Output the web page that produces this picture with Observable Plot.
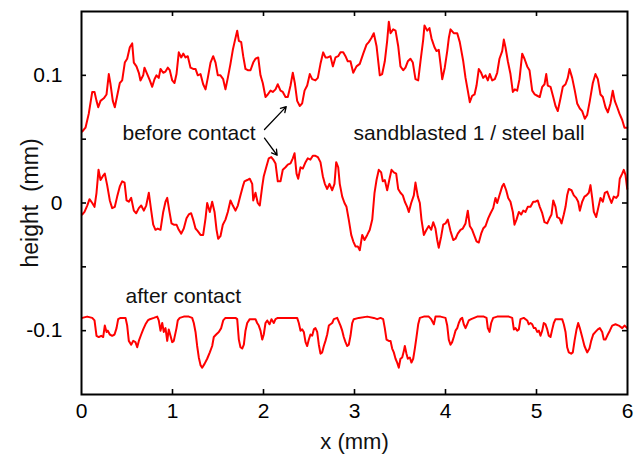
<!DOCTYPE html>
<html>
<head>
<meta charset="utf-8">
<script src="https://cdn.jsdelivr.net/npm/d3@7"></script>
<script src="https://cdn.jsdelivr.net/npm/@observablehq/plot@0.6"></script>
<style>
  html, body { margin: 0; padding: 0; background: #fff; }
  #chart svg { display: block; }
</style>
</head>
<body>
<div id="chart"></div>
<script>
// ---- data (x in mm, height in mm) ----
const beforeTopX = [0.008,0.044,0.080,0.118,0.143,0.165,0.184,0.209,0.245,0.275,0.300,0.319,0.344,0.366,0.392,0.421,0.447,0.476,0.502,0.531,0.557,0.575,0.604,0.630,0.648,0.678,0.692,0.722,0.751,0.777,0.802,0.824,0.849,0.868,0.898,0.923,0.948,0.970,0.997,1.022,1.044,1.069,1.096,1.118,1.143,1.168,1.198,1.227,1.253,1.278,1.308,1.337,1.363,1.388,1.418,1.447,1.473,1.498,1.527,1.557,1.582,1.608,1.637,1.663,1.685,1.711,1.729,1.755,1.777,1.802,1.827,1.857,1.887,1.912,1.942,1.967,1.992,2.022,2.047,2.077,2.102,2.132,2.157,2.187,2.212,2.242,2.267,2.297,2.322,2.344,2.370,2.399,2.425,2.451,2.480,2.509,2.535,2.571,2.597,2.626,2.656,2.681,2.707,2.736,2.762,2.791,2.821,2.846,2.876,2.901,2.926,2.956,2.986,3.022,3.058,3.096,3.132,3.157,3.184,3.212,3.242,3.278,3.304,3.333,3.359,3.377,3.396,3.425,3.451,3.480,3.505,3.535,3.560,3.586,3.615,3.641,3.670,3.700,3.725,3.755,3.769,3.799,3.824,3.846,3.879,3.901,3.926,3.945,3.964,3.992,4.019,4.036,4.055,4.091,4.129,4.157,4.195,4.220,4.245,4.267,4.293,4.319,4.341,4.366,4.392,4.414,4.440,4.465,4.487,4.513,4.542,4.568,4.593,4.623,4.641,4.659,4.685,4.714,4.740,4.762,4.788,4.813,4.843,4.868,4.898,4.923,4.953,4.981,5.008,5.036,5.063,5.088,5.107,5.124,5.154,5.184,5.209,5.234,5.264,5.289,5.319,5.344,5.363,5.392,5.421,5.447,5.476,5.502,5.531,5.557,5.586,5.619,5.648,5.674,5.703,5.729,5.758,5.784,5.813,5.838,5.860,5.887,5.912,5.942,5.967,5.997];
const beforeTopY = [0.056,0.059,0.070,0.087,0.087,0.080,0.075,0.080,0.082,0.085,0.101,0.093,0.080,0.075,0.084,0.094,0.096,0.110,0.113,0.122,0.125,0.110,0.107,0.102,0.096,0.100,0.106,0.101,0.096,0.091,0.097,0.100,0.098,0.105,0.102,0.103,0.106,0.104,0.096,0.094,0.101,0.118,0.114,0.117,0.114,0.115,0.106,0.105,0.105,0.100,0.101,0.093,0.089,0.098,0.110,0.115,0.110,0.100,0.100,0.097,0.089,0.098,0.109,0.120,0.127,0.135,0.127,0.126,0.115,0.105,0.104,0.104,0.110,0.113,0.114,0.100,0.094,0.083,0.085,0.088,0.087,0.089,0.093,0.088,0.087,0.083,0.083,0.092,0.102,0.094,0.080,0.076,0.078,0.088,0.092,0.101,0.097,0.096,0.098,0.109,0.118,0.114,0.114,0.115,0.107,0.114,0.115,0.118,0.118,0.115,0.111,0.111,0.102,0.107,0.109,0.117,0.124,0.126,0.129,0.133,0.123,0.100,0.101,0.111,0.127,0.142,0.133,0.136,0.135,0.123,0.107,0.104,0.106,0.111,0.113,0.110,0.097,0.096,0.111,0.128,0.139,0.135,0.137,0.129,0.122,0.119,0.120,0.109,0.097,0.106,0.119,0.129,0.136,0.133,0.133,0.126,0.111,0.098,0.088,0.079,0.084,0.085,0.092,0.105,0.102,0.098,0.100,0.096,0.101,0.096,0.097,0.102,0.113,0.119,0.128,0.122,0.111,0.101,0.087,0.089,0.088,0.097,0.117,0.113,0.107,0.104,0.088,0.085,0.084,0.083,0.091,0.093,0.101,0.092,0.091,0.083,0.076,0.072,0.082,0.091,0.093,0.098,0.105,0.098,0.088,0.078,0.074,0.072,0.066,0.069,0.080,0.094,0.101,0.097,0.085,0.083,0.075,0.071,0.078,0.088,0.080,0.075,0.070,0.065,0.059,0.059];

const beforeMidX = [0.008,0.033,0.063,0.088,0.118,0.143,0.165,0.187,0.209,0.234,0.256,0.282,0.311,0.337,0.366,0.392,0.421,0.447,0.473,0.495,0.520,0.546,0.575,0.601,0.630,0.656,0.685,0.711,0.740,0.766,0.788,0.813,0.838,0.868,0.898,0.923,0.942,0.967,0.989,1.014,1.044,1.069,1.096,1.124,1.154,1.179,1.205,1.227,1.253,1.278,1.308,1.337,1.363,1.381,1.410,1.436,1.462,1.484,1.502,1.527,1.553,1.582,1.608,1.637,1.663,1.692,1.718,1.747,1.773,1.791,1.821,1.849,1.876,1.887,1.912,1.937,1.959,1.986,2.003,2.030,2.058,2.085,2.107,2.132,2.157,2.187,2.212,2.242,2.267,2.297,2.322,2.341,2.363,2.381,2.407,2.432,2.462,2.487,2.516,2.542,2.571,2.597,2.626,2.652,2.674,2.700,2.725,2.755,2.780,2.799,2.821,2.838,2.865,2.890,2.912,2.937,2.964,2.986,3.011,3.036,3.058,3.085,3.110,3.140,3.168,3.195,3.220,3.242,3.267,3.293,3.311,3.333,3.359,3.385,3.407,3.432,3.458,3.480,3.505,3.531,3.553,3.579,3.597,3.623,3.652,3.670,3.696,3.718,3.736,3.762,3.791,3.816,3.843,3.865,3.890,3.909,3.926,3.953,3.975,4.000,4.025,4.055,4.085,4.110,4.135,4.165,4.190,4.220,4.245,4.267,4.293,4.319,4.341,4.366,4.392,4.414,4.440,4.469,4.495,4.524,4.549,4.568,4.593,4.623,4.641,4.667,4.689,4.714,4.740,4.758,4.780,4.806,4.832,4.854,4.879,4.904,4.934,4.964,4.989,5.014,5.036,5.063,5.088,5.118,5.143,5.165,5.184,5.209,5.227,5.253,5.275,5.300,5.319,5.337,5.355,5.385,5.410,5.436,5.458,5.476,5.502,5.527,5.549,5.575,5.593,5.612,5.630,5.656,5.678,5.703,5.729,5.751,5.777,5.802,5.824,5.849,5.876,5.897,5.915,5.942,5.959,5.978,5.997];
const beforeMidY = [-0.009,-0.007,-0.002,0.003,0.000,-0.003,0.008,0.026,0.018,0.021,0.023,0.014,0.002,-0.004,-0.003,0.005,0.013,0.017,0.016,0.002,0.001,0.004,-0.006,-0.008,-0.004,-0.002,-0.006,-0.002,0.008,-0.006,-0.017,-0.021,-0.020,-0.021,-0.007,0.001,0.004,-0.007,-0.016,-0.017,-0.017,-0.021,-0.024,-0.020,-0.012,-0.009,-0.008,-0.013,-0.020,-0.022,-0.025,-0.025,-0.012,0.000,-0.007,0.001,-0.007,-0.021,-0.028,-0.026,-0.017,-0.013,-0.007,0.002,-0.002,-0.006,-0.002,0.006,0.013,0.017,0.018,0.019,0.015,0.002,0.008,0.000,-0.002,0.013,0.021,0.028,0.035,0.036,0.034,0.031,0.017,0.017,0.026,0.028,0.030,0.031,0.035,0.039,0.023,0.019,0.028,0.027,0.032,0.035,0.034,0.037,0.037,0.036,0.032,0.021,0.015,0.011,0.015,0.010,0.015,0.032,0.028,0.015,0.005,0.000,-0.003,-0.013,-0.025,-0.030,-0.034,-0.034,-0.037,-0.025,-0.029,-0.025,-0.021,-0.013,0.008,0.018,0.026,0.024,0.017,0.018,0.010,0.019,0.026,0.024,0.023,0.011,0.008,0.006,0.001,-0.003,-0.007,0.000,0.006,0.016,0.005,0.000,-0.013,-0.025,-0.021,-0.018,-0.021,-0.015,-0.020,-0.029,-0.035,-0.026,-0.017,-0.016,-0.013,-0.022,-0.029,-0.028,-0.024,-0.021,-0.020,-0.016,-0.006,-0.018,-0.021,-0.026,-0.030,-0.031,-0.024,-0.020,-0.018,-0.012,-0.008,-0.004,0.004,0.000,0.006,0.013,0.015,0.010,0.004,0.001,-0.007,-0.017,-0.013,-0.007,-0.009,-0.006,-0.007,-0.003,-0.003,0.001,0.001,0.002,-0.003,-0.008,-0.015,-0.016,-0.012,-0.009,0.002,-0.003,-0.011,-0.012,-0.016,-0.009,-0.003,0.006,0.011,0.010,0.006,0.004,0.001,-0.006,0.001,0.005,0.006,0.008,0.014,0.004,-0.007,-0.011,-0.004,0.004,0.001,0.008,0.009,0.004,0.000,0.005,0.004,0.006,0.019,0.023,0.026,0.022,0.011];

const afterX = [0.008,0.063,0.118,0.143,0.165,0.190,0.216,0.238,0.256,0.275,0.289,0.311,0.337,0.363,0.385,0.403,0.429,0.484,0.502,0.520,0.546,0.568,0.593,0.612,0.630,0.656,0.678,0.703,0.729,0.751,0.795,0.832,0.849,0.868,0.887,0.904,0.923,0.942,0.959,0.978,0.997,1.014,1.044,1.058,1.080,1.124,1.179,1.216,1.234,1.253,1.271,1.289,1.308,1.326,1.352,1.381,1.410,1.436,1.454,1.480,1.509,1.535,1.557,1.582,1.637,1.692,1.711,1.729,1.747,1.766,1.784,1.802,1.821,1.849,1.887,1.912,1.930,1.948,1.967,1.986,2.003,2.022,2.041,2.066,2.088,2.113,2.132,2.157,2.223,2.297,2.370,2.388,2.407,2.425,2.443,2.462,2.480,2.498,2.516,2.535,2.553,2.571,2.590,2.608,2.626,2.645,2.663,2.681,2.700,2.718,2.736,2.755,2.773,2.810,2.846,2.865,2.882,2.901,2.920,2.937,2.956,2.975,2.992,3.047,3.140,3.212,3.249,3.286,3.315,3.333,3.352,3.377,3.396,3.414,3.432,3.451,3.469,3.487,3.505,3.524,3.542,3.553,3.571,3.586,3.608,3.626,3.645,3.663,3.681,3.700,3.718,3.762,3.816,3.843,3.872,3.890,3.945,4.000,4.019,4.036,4.055,4.073,4.091,4.110,4.129,4.146,4.165,4.184,4.201,4.220,4.238,4.256,4.282,4.348,4.421,4.451,4.465,4.484,4.502,4.524,4.568,4.641,4.696,4.733,4.751,4.769,4.788,4.806,4.824,4.860,4.898,4.915,4.934,4.953,4.971,4.989,5.008,5.026,5.044,5.063,5.080,5.099,5.118,5.135,5.154,5.173,5.190,5.209,5.245,5.282,5.300,5.319,5.337,5.355,5.381,5.399,5.418,5.440,5.458,5.476,5.502,5.527,5.557,5.582,5.601,5.623,5.648,5.674,5.696,5.722,5.740,5.758,5.784,5.806,5.832,5.868,5.904,5.942,5.967,5.997];
const afterY = [-0.090,-0.089,-0.090,-0.092,-0.104,-0.105,-0.104,-0.105,-0.096,-0.101,-0.100,-0.103,-0.104,-0.103,-0.098,-0.091,-0.090,-0.090,-0.096,-0.108,-0.111,-0.108,-0.109,-0.113,-0.108,-0.103,-0.099,-0.095,-0.092,-0.091,-0.090,-0.089,-0.092,-0.100,-0.094,-0.101,-0.098,-0.108,-0.099,-0.104,-0.109,-0.108,-0.098,-0.092,-0.090,-0.089,-0.089,-0.090,-0.094,-0.101,-0.112,-0.121,-0.127,-0.129,-0.126,-0.122,-0.117,-0.112,-0.105,-0.103,-0.101,-0.098,-0.092,-0.090,-0.090,-0.090,-0.091,-0.107,-0.113,-0.114,-0.111,-0.100,-0.094,-0.091,-0.091,-0.091,-0.094,-0.096,-0.100,-0.107,-0.103,-0.094,-0.092,-0.095,-0.091,-0.094,-0.091,-0.090,-0.090,-0.090,-0.090,-0.094,-0.100,-0.099,-0.101,-0.109,-0.112,-0.107,-0.103,-0.104,-0.099,-0.098,-0.101,-0.111,-0.118,-0.117,-0.112,-0.108,-0.103,-0.096,-0.095,-0.094,-0.091,-0.090,-0.096,-0.100,-0.105,-0.109,-0.112,-0.111,-0.104,-0.094,-0.091,-0.090,-0.089,-0.090,-0.091,-0.090,-0.091,-0.098,-0.107,-0.108,-0.108,-0.114,-0.117,-0.122,-0.125,-0.129,-0.122,-0.121,-0.116,-0.112,-0.118,-0.122,-0.121,-0.125,-0.122,-0.114,-0.105,-0.095,-0.090,-0.089,-0.089,-0.091,-0.095,-0.089,-0.089,-0.090,-0.096,-0.107,-0.111,-0.109,-0.105,-0.100,-0.098,-0.094,-0.091,-0.090,-0.095,-0.098,-0.095,-0.092,-0.091,-0.089,-0.089,-0.090,-0.098,-0.101,-0.094,-0.090,-0.089,-0.089,-0.089,-0.090,-0.099,-0.098,-0.100,-0.099,-0.091,-0.090,-0.092,-0.095,-0.094,-0.095,-0.098,-0.098,-0.101,-0.100,-0.104,-0.100,-0.094,-0.095,-0.099,-0.104,-0.105,-0.099,-0.094,-0.091,-0.091,-0.091,-0.095,-0.101,-0.113,-0.117,-0.118,-0.117,-0.108,-0.099,-0.094,-0.098,-0.105,-0.112,-0.117,-0.114,-0.108,-0.103,-0.101,-0.099,-0.098,-0.101,-0.107,-0.107,-0.103,-0.100,-0.096,-0.095,-0.096,-0.098,-0.096,-0.098];

const xTicks = [0, 1, 2, 3, 4, 5, 6];
const yTicks = [-0.1, 0, 0.1];
const yMinorTicks = [-0.1, -0.05, 0, 0.05, 0.1];
const xInnerTicks = [1, 2, 3, 4, 5];

const labels = ["before contact", "sandblasted 1 / steel ball", "after contact"];
const labelX = [0.45, 2.99, 0.484];
const labelY = [0.0545, 0.0545, -0.0731];

const arrowX1 = [2.011, 2.011];
const arrowY1 = [0.0576, 0.0508];
const arrowX2 = [2.25, 2.15];
const arrowY2 = [0.0755, 0.0374];

const xLabel = "x (mm)";
const yLabel = "height\u00a0\u00a0(mm)";

// ---- build tables ----
const topRows = beforeTopX.map((x, i) => ({x, y: beforeTopY[i]}));
const midRows = beforeMidX.map((x, i) => ({x, y: beforeMidY[i]}));
const botRows = afterX.map((x, i) => ({x, y: afterY[i]}));
const noteRows = labels.map((t, i) => ({t, x: labelX[i], y: labelY[i]}));
const arrowRows = arrowX1.map((x1, i) => ({x1, y1: arrowY1[i], x2: arrowX2[i], y2: arrowY2[i]}));

const W = 643, H = 459;
const mL = 81, mR = 16, mT = 11, mB = 65;
const innerW = W - mL - mR, innerH = H - mT - mB;
const tk = 5;

const chart = Plot.plot({
  width: W,
  height: H,
  marginLeft: mL,
  marginRight: mR,
  marginTop: mT,
  marginBottom: mB,
  style: {fontFamily: "'Liberation Sans', Arial, Helvetica, sans-serif", fontSize: "21px", color: "#000", background: "#fff"},
  x: {domain: [0, 6]},
  y: {domain: [-0.15, 0.15]},
  marks: [
    Plot.axisX({ticks: xTicks, tickSize: 0, tickPadding: 9, tickFormat: d => String(d), label: null}),
    Plot.axisY({ticks: yTicks, tickSize: 0, tickPadding: 19, tickFormat: d => String(d), label: null}),
    Plot.ruleY(yMinorTicks, {stroke: "#000", strokeWidth: 1.6, insetRight: innerW - tk}),
    Plot.ruleY(yMinorTicks, {stroke: "#000", strokeWidth: 1.6, insetLeft: innerW - tk}),
    Plot.ruleX(xInnerTicks, {stroke: "#000", strokeWidth: 1.6, insetTop: innerH - tk}),
    Plot.ruleX(xInnerTicks, {stroke: "#000", strokeWidth: 1.6, insetBottom: innerH - tk}),
    Plot.line(topRows, {x: "x", y: "y", stroke: "#ff0000", strokeWidth: 2, strokeLinejoin: "round"}),
    Plot.line(midRows, {x: "x", y: "y", stroke: "#ff0000", strokeWidth: 2, strokeLinejoin: "round"}),
    Plot.line(botRows, {x: "x", y: "y", stroke: "#ff0000", strokeWidth: 2, strokeLinejoin: "round"}),
    Plot.arrow(arrowRows, {x1: "x1", y1: "y1", x2: "x2", y2: "y2", stroke: "#000", strokeWidth: 1.3, headLength: 7}),
    Plot.text(noteRows, {x: "x", y: "y", text: "t", textAnchor: "start", lineAnchor: "middle", fill: "#111", fontSize: 21}),
    Plot.text([xLabel], {frameAnchor: "bottom", dy: 47, textAnchor: "middle", lineAnchor: "middle", fontSize: 22, fill: "#111"}),
    Plot.text([yLabel], {frameAnchor: "left", dx: -51, rotate: -90, textAnchor: "middle", lineAnchor: "middle", fontSize: 23, fill: "#111"}),
    Plot.frame({stroke: "#000", strokeWidth: 2})
  ]
});

document.getElementById("chart").appendChild(chart);
</script>
</body>
</html>
